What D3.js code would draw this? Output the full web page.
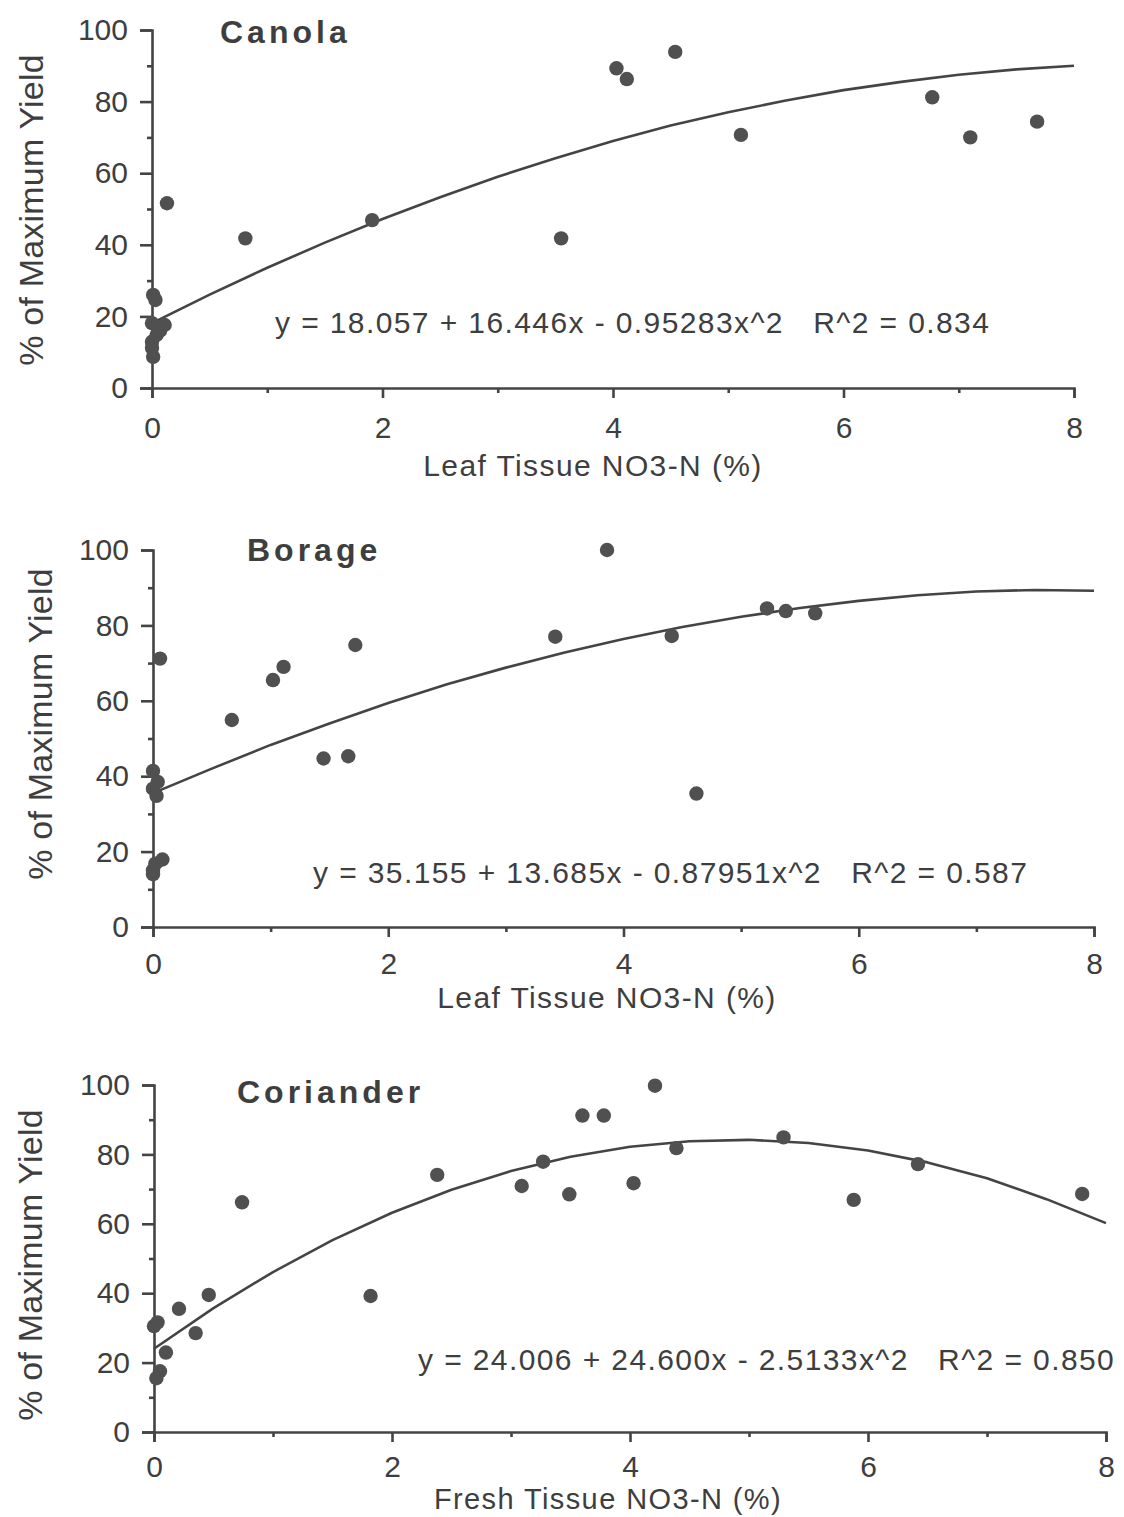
<!DOCTYPE html>
<html>
<head>
<meta charset="utf-8">
<script src="https://cdn.jsdelivr.net/npm/d3@7"></script>
<style>
  body { margin: 0; background: #fff; }
  svg { display: block; }
  text { font-family: "Liberation Sans", Arial, Helvetica, sans-serif; fill: #3e3e3e; }
</style>
</head>
<body>
<script>
// tick values shared by the three panels
const xTicks = [0, 2, 4, 6, 8];
const xMinorTicks = [1, 3, 5, 7];
const yTicks = [0, 20, 40, 60, 80, 100];
const yMinorTicks = [10, 30, 50, 70, 90];

// Canola
const canolaX = [0.01, 0.03, 0.00, 0.11, 0.07, 0.04, 0.00, 0.00, 0.01, 0.13, 0.81, 1.91, 3.55, 4.03, 4.12, 4.54, 5.11, 6.77, 7.10, 7.68];
const canolaY = [26.0, 24.6, 18.1, 17.6, 16.0, 14.8, 12.9, 11.2, 8.7, 51.6, 41.8, 46.9, 41.8, 89.3, 86.3, 93.9, 70.7, 81.2, 70.0, 74.4];

// Borage
const borageX = [0.00, 0.04, 0.00, 0.03, 0.08, 0.02, 0.00, 0.00, 0.06, 0.67, 1.02, 1.11, 1.72, 1.45, 1.66, 3.42, 3.86, 4.41, 4.62, 5.22, 5.38, 5.63];
const borageY = [41.4, 38.5, 36.7, 34.8, 17.9, 16.8, 15.0, 14.0, 71.2, 54.9, 65.5, 69.0, 74.8, 44.7, 45.3, 77.0, 100.0, 77.2, 35.4, 84.5, 83.8, 83.2];

// Coriander
const corianderX = [0.03, 0.00, 0.10, 0.05, 0.02, 0.21, 0.35, 0.46, 0.74, 1.82, 2.38, 3.09, 3.27, 3.49, 3.60, 3.78, 4.03, 4.21, 4.39, 5.29, 5.88, 6.42, 7.80];
const corianderY = [31.6, 30.5, 22.9, 17.5, 15.5, 35.5, 28.5, 39.5, 66.2, 39.2, 74.1, 70.9, 77.9, 68.5, 91.2, 91.2, 71.7, 99.8, 81.8, 84.9, 66.9, 77.2, 68.6];

// fitted curves, every 0.5 units
const fitX = [0, 0.5, 1, 1.5, 2, 2.5, 3, 3.5, 4, 4.5, 5, 5.5, 6, 6.5, 7, 7.5, 8];
const canolaFit = [18.1, 26.1, 33.6, 40.6, 47.2, 53.3, 59.0, 64.2, 69.0, 73.3, 77.0, 80.3, 83.2, 85.5, 87.5, 89.0, 90.0];
const borageFit = [35.5, 42.0, 48.3, 54.0, 59.4, 64.4, 68.8, 72.8, 76.4, 79.6, 82.3, 84.6, 86.5, 88.0, 89.0, 89.4, 89.2];
const corianderFit = [24.0, 35.7, 46.1, 55.3, 63.2, 69.8, 75.2, 79.3, 82.2, 83.8, 84.2, 83.3, 81.1, 77.7, 73.1, 67.1, 60.2];

const titles = ["Canola", "Borage", "Coriander"];
const xTitles = ["Leaf Tissue NO3-N (%)", "Leaf Tissue NO3-N (%)", "Fresh Tissue NO3-N (%)"];
const yTitle = "% of Maximum Yield";
const equations = [
  "y = 18.057 + 16.446x - 0.95283x^2   R^2 = 0.834",
  "y = 35.155 + 13.685x - 0.87951x^2   R^2 = 0.587",
  "y = 24.006 + 24.600x - 2.5133x^2   R^2 = 0.850"
];

// where each panel sits on the page
const layout = [
  { xRange: [152, 1074], yRange: [388, 30],    titlePos: [220, 43],   eqPos: [275, 333],  xTitlePos: [593, 476],  yTitlePos: [43, 210],  xPad: 19, xTitleSize: 30 },
  { xRange: [153, 1094], yRange: [927, 550],   titlePos: [247, 561],  eqPos: [313, 883],  xTitlePos: [607, 1008], yTitlePos: [52, 724],  xPad: 16, xTitleSize: 30 },
  { xRange: [154, 1106], yRange: [1432, 1085], titlePos: [237, 1103], eqPos: [418, 1370], xTitlePos: [608, 1509], yTitlePos: [42, 1265], xPad: 14, xTitleSize: 29 }
];

const series = [
  { xs: canolaX, ys: canolaY, fit: canolaFit },
  { xs: borageX, ys: borageY, fit: borageFit },
  { xs: corianderX, ys: corianderY, fit: corianderFit }
];

const ink = "#444";
const dotColor = "#505050";

const svg = d3.select("body").append("svg")
  .attr("width", 1124)
  .attr("height", 1517);

svg.append("rect").attr("width", 1124).attr("height", 1517).attr("fill", "#fff");

function styleAxis(a) {
  a.attr("font-size", null).attr("font-family", null);
  a.selectAll(".domain").attr("stroke", ink).attr("stroke-width", 2.6);
  a.selectAll(".tick line").attr("stroke", ink).attr("stroke-width", 2.6);
  a.selectAll(".tick text").style("font-size", "30px");
}

series.forEach((s, i) => {
  const p = layout[i];
  const x = d3.scaleLinear().domain([0, 8]).range(p.xRange);
  const y = d3.scaleLinear().domain([0, 100]).range(p.yRange);
  const g = svg.append("g");

  // y axis: minor then major ticks
  g.append("g")
    .attr("transform", `translate(${x(0)},0)`)
    .call(d3.axisLeft(y).tickValues(yMinorTicks).tickSize(5).tickFormat(""))
    .call(a => a.select(".domain").remove())
    .call(styleAxis);

  g.append("g")
    .attr("transform", `translate(${x(0)},0)`)
    .call(d3.axisLeft(y).tickValues(yTicks).tickSize(12).tickPadding(12))
    .call(styleAxis);

  // x axis
  g.append("g")
    .attr("transform", `translate(0,${y(0)})`)
    .call(d3.axisBottom(x).tickValues(xMinorTicks).tickSize(5).tickFormat(""))
    .call(a => a.select(".domain").remove())
    .call(styleAxis);

  g.append("g")
    .attr("transform", `translate(0,${y(0)})`)
    .call(d3.axisBottom(x).tickValues(xTicks).tickSize(10).tickPadding(p.xPad))
    .call(styleAxis);

  // fitted curve
  const line = d3.line()
    .x(d => x(d[0]))
    .y(d => y(d[1]));

  g.append("path")
    .datum(d3.zip(fitX, s.fit))
    .attr("d", line)
    .attr("fill", "none")
    .attr("stroke", ink)
    .attr("stroke-width", 2.6)
    .attr("stroke-linejoin", "round");

  // observations
  g.selectAll(".dot")
    .data(d3.zip(s.xs, s.ys))
    .join("circle")
    .attr("class", "dot")
    .attr("cx", d => x(d[0]))
    .attr("cy", d => y(d[1]))
    .attr("r", 7.2)
    .attr("fill", dotColor);

  // crop name
  g.append("text")
    .attr("x", p.titlePos[0])
    .attr("y", p.titlePos[1])
    .style("font-size", "32px")
    .style("font-weight", "bold")
    .style("letter-spacing", "4px")
    .text(titles[i]);

  // regression equation
  g.append("text")
    .attr("x", p.eqPos[0])
    .attr("y", p.eqPos[1])
    .style("font-size", "30px")
    .style("letter-spacing", "1.4px")
    .style("white-space", "pre")
    .text(equations[i]);

  // axis titles
  g.append("text")
    .attr("x", p.xTitlePos[0])
    .attr("y", p.xTitlePos[1])
    .attr("text-anchor", "middle")
    .style("font-size", p.xTitleSize + "px")
    .style("letter-spacing", "1.4px")
    .text(xTitles[i]);

  g.append("text")
    .attr("transform", `translate(${p.yTitlePos[0]},${p.yTitlePos[1]}) rotate(-90)`)
    .attr("text-anchor", "middle")
    .style("font-size", "34px")
    .style("letter-spacing", "0.2px")
    .text(yTitle);
});
</script>
</body>
</html>
